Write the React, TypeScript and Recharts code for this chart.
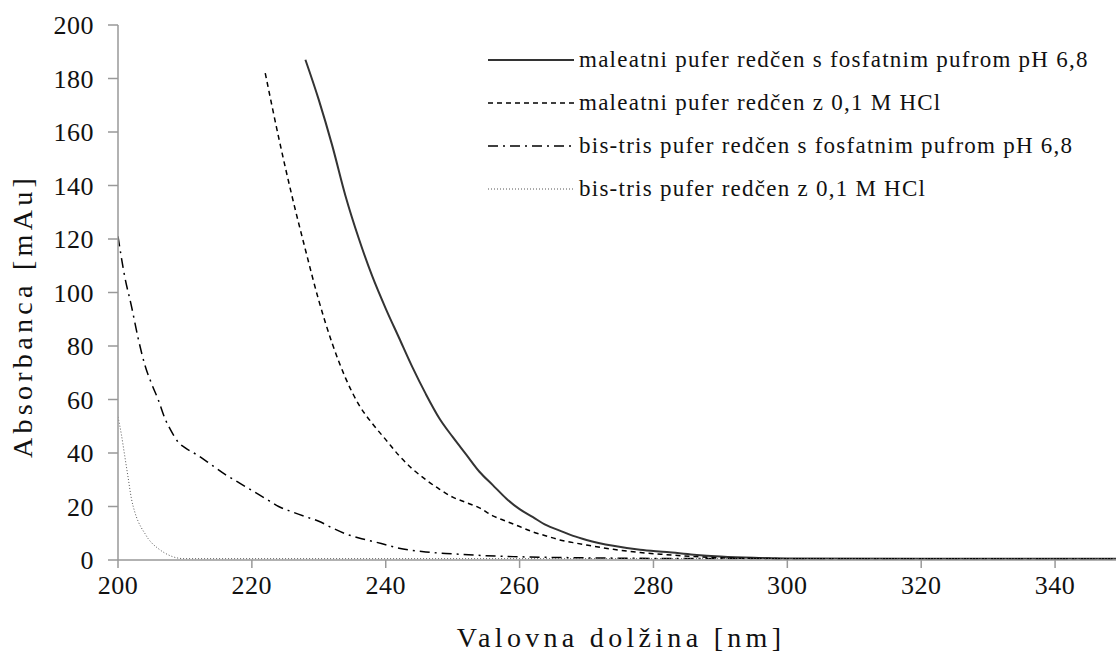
import React from "react";
import {
  LineChart,
  Line,
  XAxis,
  YAxis,
  Label,
} from "recharts";

// maleatni pufer redčen s fosfatnim pufrom pH 6,8
const maleatFosfatX = [228, 230, 232, 234, 236, 238, 240, 242, 244, 246, 248, 250, 252, 254, 256, 258, 260, 262, 264, 266, 268, 270, 274, 278, 282, 286, 290, 295, 300, 320, 350];
const maleatFosfatY = [187, 172, 155, 136, 120, 106, 94, 83, 72, 62, 53, 46, 39.5, 33, 28, 23, 19, 16, 13, 11, 9, 7.5, 5.3, 3.8, 3, 2, 1.3, 0.8, 0.6, 0.5, 0.5];

// maleatni pufer redčen z 0,1 M HCl
const maleatHclX = [222, 224, 226, 228, 230, 232, 234, 236, 238, 240, 242, 244, 246, 248, 250, 252, 254, 256, 258, 260, 262, 264, 266, 268, 270, 274, 278, 282, 286, 290, 300, 350];
const maleatHclY = [182, 158, 136, 116, 97, 81, 68, 58, 51, 45, 39, 34, 30, 26.5, 23.5, 21.5, 19.5, 16.5, 14.5, 12.5, 10.5, 9, 7.5, 6.5, 5.6, 4, 2.8, 2, 1.3, 0.8, 0.5, 0.4];

// bis-tris pufer redčen s fosfatnim pufrom pH 6,8
const bistrisFosfatX = [200, 201, 202, 203, 204, 205, 206, 207, 208, 209, 210, 212, 214, 216, 218, 220, 222, 224, 226, 228, 230, 232, 234, 236, 238, 240, 242, 244, 246, 250, 255, 260, 270, 280, 300, 350];
const bistrisFosfatY = [121, 106, 95, 83, 73, 66, 60, 53, 48, 44, 42, 39, 35.5, 32, 29, 26, 23, 20, 18, 16.2, 14.5, 12, 9.8, 8.2, 7, 5.7, 4.4, 3.6, 3, 2.3, 1.6, 1.2, 0.8, 0.6, 0.5, 0.4];

// bis-tris pufer redčen z 0,1 M HCl
const bistrisHclX = [200, 200.5, 201, 201.5, 202, 202.5, 203, 203.5, 204, 204.5, 205, 206, 207, 208, 209, 210, 350];
const bistrisHclY = [53.5, 47, 39, 31, 23, 18, 14.5, 12, 10, 8, 6.5, 4.3, 2.6, 1.4, 0.7, 0.5, 0.5];

const xTicks = [200, 220, 240, 260, 280, 300, 320, 340];
const yTicks = [0, 20, 40, 60, 80, 100, 120, 140, 160, 180, 200];

const toRows = (xs: number[], ys: number[]) => xs.map((x, i) => ({ x, y: ys[i] }));

const series = [
  { name: "maleatni pufer redčen s fosfatnim pufrom pH 6,8", data: toRows(maleatFosfatX, maleatFosfatY), color: "#333", width: 2, dash: undefined },
  { name: "maleatni pufer redčen z 0,1 M HCl", data: toRows(maleatHclX, maleatHclY), color: "#000", width: 1.5, dash: "5 4" },
  { name: "bis-tris pufer redčen s fosfatnim pufrom pH 6,8", data: toRows(bistrisFosfatX, bistrisFosfatY), color: "#000", width: 1.5, dash: "10 5 2 5" },
  { name: "bis-tris pufer redčen z 0,1 M HCl", data: toRows(bistrisHclX, bistrisHclY), color: "#555", width: 1, dash: "1 2" },
];

const font = "'Liberation Serif', 'Times New Roman', serif";
const tickStyle = { fontSize: 26, fill: "#111", fontFamily: font, letterSpacing: 0.5 };

// legend sits on top of the plot, outside recharts layout
const LegendBox = () => (
  <div style={{ position: "absolute", left: 488, top: 38, fontFamily: font, fontSize: 23, color: "#111" }}>
    {series.map((s) => (
      <div key={s.name} style={{ display: "flex", alignItems: "center", height: 43 }}>
        <svg width={88} height={10} style={{ marginRight: 3 }}>
          <line x1={0} y1={5} x2={86} y2={5} stroke={s.color} strokeWidth={s.width} strokeDasharray={s.dash} />
        </svg>
        <span style={{ letterSpacing: 1.25, whiteSpace: "nowrap" }}>{s.name}</span>
      </div>
    ))}
  </div>
);

export default function App() {
  return (
    <div style={{ position: "absolute", left: 0, top: 0, width: 1116, height: 652, overflow: "hidden", background: "#fff" }}>
      <LineChart width={1122} height={652} margin={{ top: 25, right: 0, bottom: 0, left: 0 }}>
        <XAxis
          type="number"
          dataKey="x"
          domain={[200, 350]}
          ticks={xTicks}
          allowDataOverflow
          height={92}
          stroke="#999"
          strokeWidth={1.5}
          tickSize={8}
          tickMargin={8}
          tick={tickStyle}
        >
          <Label
            content={() => (
              <text x={621} y={647} textAnchor="middle" fontFamily={font} fontSize={28} fill="#111" letterSpacing={4.3}>
                Valovna dolžina [nm]
              </text>
            )}
          />
        </XAxis>
        <YAxis
          type="number"
          dataKey="y"
          domain={[0, 200]}
          ticks={yTicks}
          width={118}
          stroke="#999"
          strokeWidth={1.5}
          tickSize={10}
          tickMargin={14}
          tick={tickStyle}
        >
          <Label
            content={() => (
              <text x={32} y={316} transform="rotate(-90 32 316)" textAnchor="middle" fontFamily={font} fontSize={28} fill="#111" letterSpacing={4.3}>
                Absorbanca [mAu]
              </text>
            )}
          />
        </YAxis>
        {series.map((s) => (
          <Line
            key={s.name}
            data={s.data}
            dataKey="y"
            name={s.name}
            type="monotone"
            stroke={s.color}
            strokeWidth={s.width}
            strokeDasharray={s.dash}
            dot={false}
            activeDot={false}
            isAnimationActive={false}
          />
        ))}
      </LineChart>
      <LegendBox />
    </div>
  );
}
